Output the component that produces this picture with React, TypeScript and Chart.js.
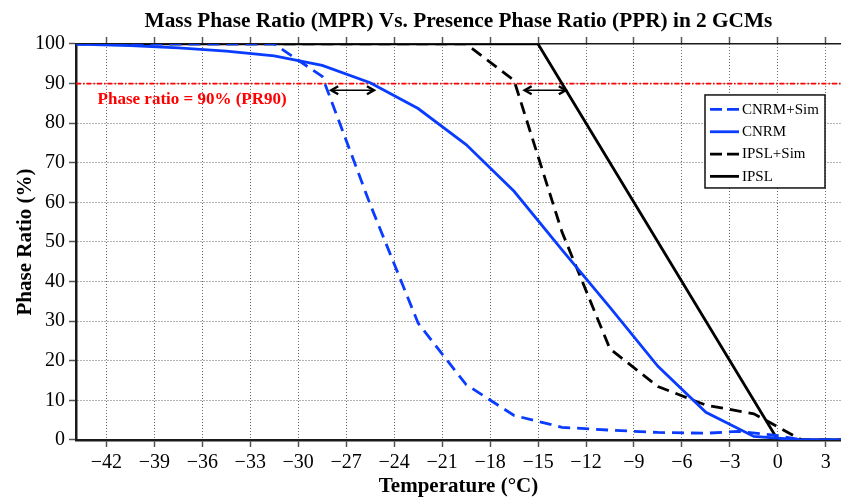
import React, { useEffect, useRef } from 'react';
import { Chart, registerables } from 'chart.js';

Chart.register(...registerables);

// ---------- data ----------
const titleText = 'Mass Phase Ratio (MPR) Vs. Presence Phase Ratio (PPR) in 2 GCMs';
const xTitle = 'Temperature (°C)';
const yTitle = 'Phase Ratio (%)';

const xTicks = [-42, -39, -36, -33, -30, -27, -24, -21, -18, -15, -12, -9, -6, -3, 0, 3];
const yTicks = [0, 10, 20, 30, 40, 50, 60, 70, 80, 90, 100];

const cnrmSimT = [-44, -31.5, -28.5, -25.5, -22.5, -19.5, -16.5, -13.5, -10.5, -7.5, -4.5, -2.5, 0, 1.5, 4];
const cnrmSimV = [100, 100, 91.8, 59.5, 29.5, 14, 6.2, 3.2, 2.5, 1.9, 1.7, 2.2, 1.1, 0, 0];

const cnrmT = [-44, -40.5, -37.5, -34.5, -31.5, -28.5, -25.5, -22.5, -19.5, -16.5, -13.5, -10.5, -7.5, -4.5, -1.5, 1.5, 4];
const cnrmV = [100, 99.6, 99.0, 98.2, 97.0, 94.6, 90.2, 83.7, 74.6, 62.8, 48, 33.5, 18.6, 7, 0.9, 0, 0];

const ipslSimT = [-44, -19.5, -16.5, -13.5, -10.5, -7.5, -4.5, -1.5, 1.5, 4];
const ipslSimV = [100, 100, 90.8, 52.5, 23, 13.5, 8.8, 6.6, 0, 0];

const ipslT = [-44, -15, 0, 4];
const ipslV = [100, 100, 0, 0];

const seriesNames = ['CNRM+Sim', 'CNRM', 'IPSL+Sim', 'IPSL'];

const prThreshold = 90;
const prLabel = 'Phase ratio = 90% (PR90)';
const prLabelT = -42.55;
const prLabelV = 86;

const arrowV = 88.3;
const arrowFromT = [-28.0, -15.9];
const arrowToT = [-25.2, -13.2];

// ---------- styles ----------
const SERIF = "'Liberation Serif', 'Times New Roman', serif";
const BLUE = '#0a3cff';
const BLACK = '#000000';
const RED = '#ff0000';
const DASH = [12, 7];

const toPoints = (ts: number[], vs: number[]) => ts.map((t, i) => ({ x: t, y: vs[i] }));

const fmtTick = (v: number) => (v < 0 ? '\u2212' + Math.abs(v) : String(v));

const seriesStyles = [
  { color: BLUE, dash: DASH },
  { color: BLUE, dash: [] as number[] },
  { color: BLACK, dash: DASH },
  { color: BLACK, dash: [] as number[] },
];

const overlayPlugin = {
  id: 'overlay',
  beforeDatasetsDraw(chart: any) {
    const { ctx, chartArea, scales } = chart;
    const y = scales.y.getPixelForValue(prThreshold);
    ctx.save();
    ctx.beginPath();
    ctx.rect(chartArea.left, chartArea.top, chartArea.right - chartArea.left, chartArea.bottom - chartArea.top);
    ctx.clip();
    ctx.strokeStyle = RED;
    ctx.lineWidth = 1.8;
    ctx.setLineDash([5, 2, 1.5, 2]);
    ctx.beginPath();
    ctx.moveTo(chartArea.left, y);
    ctx.lineTo(chartArea.right, y);
    ctx.stroke();
    ctx.restore();
  },
  afterDatasetsDraw(chart: any) {
    const { ctx, chartArea, scales } = chart;
    const xs = scales.x;
    const ys = scales.y;
    ctx.save();
    // PR90 label
    ctx.fillStyle = RED;
    ctx.font = `bold 17px ${SERIF}`;
    ctx.textAlign = 'left';
    ctx.textBaseline = 'middle';
    ctx.fillText(prLabel, xs.getPixelForValue(prLabelT), ys.getPixelForValue(prLabelV));

    // double-headed arrows
    const ay = ys.getPixelForValue(arrowV);
    ctx.strokeStyle = BLACK;
    ctx.setLineDash([]);
    for (let i = 0; i < arrowFromT.length; i++) {
      const x1 = xs.getPixelForValue(arrowFromT[i]);
      const x2 = xs.getPixelForValue(arrowToT[i]);
      ctx.lineWidth = 1.6;
      ctx.beginPath();
      ctx.moveTo(x1 + 1, ay);
      ctx.lineTo(x2 - 1, ay);
      ctx.stroke();
      ctx.lineWidth = 2.4;
      ctx.lineJoin = 'miter';
      ctx.beginPath();
      ctx.moveTo(x1 + 8, ay - 4);
      ctx.lineTo(x1 + 1, ay);
      ctx.lineTo(x1 + 8, ay + 4);
      ctx.stroke();
      ctx.beginPath();
      ctx.moveTo(x2 - 8, ay - 4);
      ctx.lineTo(x2 - 1, ay);
      ctx.lineTo(x2 - 8, ay + 4);
      ctx.stroke();
    }

    // legend box
    const boxRight = chartArea.right - 16;
    const boxLeft = boxRight - 120;
    const boxTop = chartArea.top + 51;
    const boxH = 93;
    ctx.fillStyle = '#ffffff';
    ctx.fillRect(boxLeft, boxTop, boxRight - boxLeft, boxH);
    ctx.strokeStyle = '#111';
    ctx.lineWidth = 1.5;
    ctx.strokeRect(boxLeft, boxTop, boxRight - boxLeft, boxH);
    ctx.font = `15px ${SERIF}`;
    ctx.textAlign = 'left';
    ctx.textBaseline = 'middle';
    for (let i = 0; i < seriesNames.length; i++) {
      const iy = boxTop + 14.5 + i * 22.3;
      const st = seriesStyles[i];
      ctx.strokeStyle = st.color;
      ctx.lineWidth = 2.8;
      ctx.setLineDash(st.dash.length ? [12, 5] : []);
      ctx.beginPath();
      ctx.moveTo(boxLeft + 5, iy);
      ctx.lineTo(boxLeft + 34, iy);
      ctx.stroke();
      ctx.setLineDash([]);
      ctx.fillStyle = '#000';
      ctx.fillText(seriesNames[i], boxLeft + 37, iy + 0.5);
    }
    ctx.restore();
  },
};

export default function App() {
  const canvasRef = useRef<HTMLCanvasElement | null>(null);

  useEffect(() => {
    if (!canvasRef.current) return;
    const setTicks = (values: number[]) => (scale: any) => {
      scale.ticks = values.map((v) => ({ value: v }));
    };
    const datasets = [
      { data: toPoints(cnrmSimT, cnrmSimV) },
      { data: toPoints(cnrmT, cnrmV) },
      { data: toPoints(ipslSimT, ipslSimV) },
      { data: toPoints(ipslT, ipslV) },
    ].map((d, i) => ({
      label: seriesNames[i],
      data: d.data,
      borderColor: seriesStyles[i].color,
      backgroundColor: seriesStyles[i].color,
      borderDash: seriesStyles[i].dash,
      borderWidth: 2.8,
      pointRadius: 0,
      tension: 0,
      fill: false,
      xAxisID: 'x',
      yAxisID: 'y',
    }));

    const chart = new Chart(canvasRef.current, {
      type: 'line',
      data: { datasets },
      plugins: [overlayPlugin],
      options: {
        animation: false,
        responsive: false,
        devicePixelRatio: 1,
        layout: { padding: 0 },
        plugins: {
          legend: { display: false },
          tooltip: { enabled: false },
          title: {
            display: true,
            fullSize: false,
            text: titleText,
            color: '#000',
            font: { family: SERIF, size: 21.3, weight: 'bold', lineHeight: 1.2 },
            padding: { top: 8.4, bottom: 3.0 },
          },
        },
        scales: {
          x: {
            type: 'linear',
            position: 'bottom',
            min: -43.9,
            max: 3.95,
            afterBuildTicks: setTicks(xTicks),
            afterFit: (s: any) => { s.height = 59; },
            ticks: {
              color: '#000',
              font: { family: SERIF, size: 20 },
              padding: 4,
              maxRotation: 0,
              autoSkip: false,
              callback: (v: any) => fmtTick(Number(v)),
            },
            grid: { color: '#666', lineWidth: 1, tickLength: 7, tickColor: '#555', tickWidth: 1.5 },
            border: { display: true, color: '#1a1a1a', width: 2.5, dash: [1, 2] },
            title: {
              display: true,
              text: xTitle,
              color: '#000',
              font: { family: SERIF, size: 21, weight: 'bold', lineHeight: 1.2 },
              padding: { top: 0, bottom: 0 },
            },
          },
          x2: {
            type: 'linear',
            position: 'top',
            min: -43.9,
            max: 3.95,
            afterBuildTicks: setTicks(xTicks),
            afterFit: (s: any) => { s.height = 7; },
            ticks: { display: false },
            grid: { drawOnChartArea: false, drawTicks: true, tickLength: 7, tickColor: '#555', tickWidth: 1.5 },
            border: { display: true, color: '#1a1a1a', width: 1.5 },
          },
          y: {
            type: 'linear',
            position: 'left',
            min: 0,
            max: 100,
            afterBuildTicks: setTicks(yTicks),
            afterFit: (s: any) => { s.width = 76; },
            ticks: {
              color: '#000',
              font: { family: SERIF, size: 20 },
              padding: 4,
              callback: (v: any) => fmtTick(Number(v)),
            },
            grid: { color: '#666', lineWidth: 1, tickLength: 7, tickColor: '#555', tickWidth: 1.5 },
            border: { display: true, color: '#1a1a1a', width: 2.5, dash: [1, 2] },
            title: {
              display: true,
              text: yTitle,
              color: '#000',
              font: { family: SERIF, size: 21, weight: 'bold', lineHeight: 1.2 },
              padding: { top: 13, bottom: 0 },
            },
          },
        },
      } as any,
    });
    return () => chart.destroy();
  }, []);

  return (
    <div style={{ position: 'absolute', left: 0, top: 0, width: 841, height: 499, background: '#fff' }}>
      <canvas ref={canvasRef} width={841} height={499} style={{ display: 'block', width: 841, height: 499 }} />
    </div>
  );
}
